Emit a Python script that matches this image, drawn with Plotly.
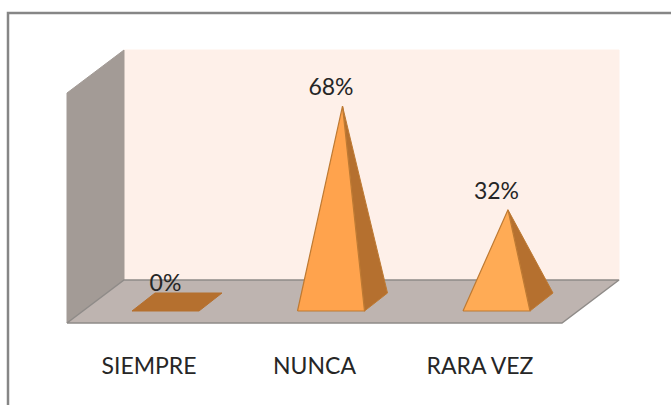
import plotly.graph_objects as go

categories = ["SIEMPRE", "NUNCA", "RARA VEZ"]
values = [0, 68, 32]
labels = ["0%", "68%", "32%"]

# Scale of the axes, in pixels per unit
W, H = 671, 405
PX_PER_CAT = 165.5
PX_PER_PCT = 2.88
X0_PX, Y0_PX = 177, 302  # pixel position of category 0, value 0


def ux(px):
    return px / PX_PER_CAT


def uy(px):
    return px / PX_PER_PCT


HALF_W = ux(33.5)      # half width of a pyramid base
DEPTH_X = ux(11.5)     # half of the oblique depth of a base
DEPTH_Y = uy(9)
LABEL_DX = ux(-11.5)
LABEL_DY = uy(16.5)

FLOOR_L, FLOOR_R = ux(67 - X0_PX), ux(562 - X0_PX)
WALL_DX, WALL_DY = ux(57), uy(43)
FLOOR_Y = uy(Y0_PX - 323)
WALL_TOP = uy(Y0_PX - 93)

C_BACK = "#FEF0E9"
C_LEFT = "#A39B96"
C_FLOOR = "#BEB4B0"
C_EDGE = "#8F8B88"
C_FRONT = ["#FFA64D", "#FFA34D", "#FFAB55"]
C_SIDE = "#B5702F"
C_LINE = "#BE7A33"
C_TEXT = "#262626"
FONT = "Lato"
SIZE = 23

fig = go.Figure()


def poly(xs, ys, fill, line=None, lw=1):
    fig.add_trace(go.Scatter(
        x=xs + xs[:1], y=ys + ys[:1], mode="lines", fill="toself", fillcolor=fill,
        line=dict(color=line or fill, width=lw), hoverinfo="skip", showlegend=False))


# Walls and floor
poly([FLOOR_L + WALL_DX, FLOOR_R + WALL_DX, FLOOR_R + WALL_DX, FLOOR_L + WALL_DX],
     [FLOOR_Y + WALL_DY, FLOOR_Y + WALL_DY, WALL_TOP + WALL_DY, WALL_TOP + WALL_DY], C_BACK)
poly([FLOOR_L, FLOOR_L + WALL_DX, FLOOR_L + WALL_DX, FLOOR_L],
     [FLOOR_Y, FLOOR_Y + WALL_DY, WALL_TOP + WALL_DY, WALL_TOP], C_LEFT)
poly([FLOOR_L, FLOOR_R, FLOOR_R + WALL_DX, FLOOR_L + WALL_DX],
     [FLOOR_Y, FLOOR_Y, FLOOR_Y + WALL_DY, FLOOR_Y + WALL_DY], C_FLOOR, C_EDGE, 1.5)

# Pyramids
for i, v in enumerate(values):
    fl = i - HALF_W - DEPTH_X
    fr = i + HALF_W - DEPTH_X
    br = i + HALF_W + DEPTH_X
    bl = i - HALF_W + DEPTH_X
    if v == 0:
        poly([fl, fr, br, bl], [-DEPTH_Y, -DEPTH_Y, DEPTH_Y, DEPTH_Y], C_SIDE)
    else:
        poly([fr, br, i], [-DEPTH_Y, DEPTH_Y, v], C_SIDE, C_LINE)
        poly([fl, fr, i], [-DEPTH_Y, -DEPTH_Y, v], C_FRONT[i], C_LINE, 1.2)

# Value labels
fig.add_trace(go.Scatter(
    x=[i + LABEL_DX for i in range(len(values))],
    y=[v + LABEL_DY for v in values],
    mode="text", text=labels, textposition="middle center",
    textfont=dict(family=FONT, size=SIZE, color=C_TEXT),
    hoverinfo="skip", showlegend=False))

# Category labels
fig.add_trace(go.Scatter(
    x=[i + ux(-28) for i in range(len(categories))],
    y=[uy(Y0_PX - 368.5)] * len(categories),
    mode="text", text=categories, textposition="middle center",
    textfont=dict(family=FONT, size=SIZE, color=C_TEXT),
    hoverinfo="skip", showlegend=False))

# Outer frame (open on the right and bottom, as cropped in the reference)
frame = dict(type="path", xref="paper", yref="paper",
             path=f"M {8/W} 0 L {8/W} {1-13/H} L 1 {1-13/H}",
             line=dict(color="#868686", width=2.5))

fig.update_layout(
    width=W, height=H, margin=dict(l=0, r=0, t=0, b=0),
    paper_bgcolor="white", plot_bgcolor="white", showlegend=False,
    xaxis=dict(range=[ux(-X0_PX), ux(W - X0_PX)], visible=False, fixedrange=True),
    yaxis=dict(range=[uy(Y0_PX - H), uy(Y0_PX)], visible=False, fixedrange=True),
    shapes=[frame],
)

fig.write_html("out.html", config={"displayModeBar": False},
               post_script="document.body.style.margin='0';")
